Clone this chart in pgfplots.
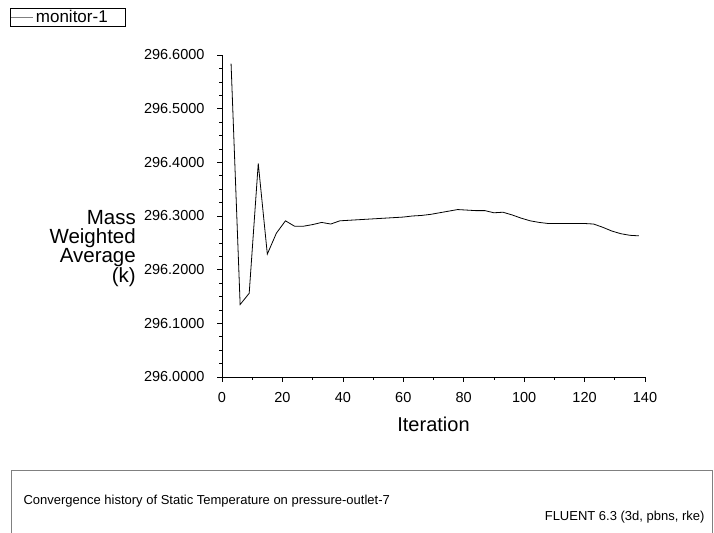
\documentclass[border=0pt]{standalone}
\usepackage{fontspec}
\setmainfont{Liberation Sans}
\usepackage{pgfplots}
\pgfplotsset{compat=1.18}

\begin{document}
\begin{tikzpicture}[x=1bp,y=1bp]
\useasboundingbox (0,0) rectangle (714,533);
\begin{axis}[
  at={(222bp,156bp)}, anchor=south west,
  width=423bp, height=322bp, scale only axis,
  xmin=0, xmax=140, ymin=296, ymax=296.6,
  axis x line*=bottom, axis y line*=left,
  axis line style={-, black, line width=0.6bp},
  tick align=outside, major tick length=5bp, minor tick length=3bp,
  tick style={black, line width=0.6bp},
  xtick={0,20,...,140}, minor x tick num=1,
  ytick={296,296.1,296.2,296.3,296.4,296.5,296.6}, minor y tick num=3,
  scaled y ticks=false,
  yticklabel style={/pgf/number format/fixed, /pgf/number format/fixed zerofill,
    /pgf/number format/precision=4, /pgf/number format/1000 sep={}, xshift=-9bp},
  xticklabel style={yshift=-7bp},
  /pgf/number format/assume math mode=true,
  ticklabel style={font=\fontsize{14.5bp}{14.5bp}\selectfont},
  xlabel={Iteration},
  xlabel style={at={(axis description cs:0.5,0)}, anchor=base, yshift=-55bp,
    font=\fontsize{20bp}{20bp}\selectfont},
  ylabel={Mass\\Weighted\\Average\\(k)},
  ylabel style={rotate=-90, align=right, anchor=north east, inner sep=0pt,
    at={(axis description cs:0,0.518)}, xshift=-86bp,
    font=\fontsize{20.5bp}{19bp}\selectfont},
  legend style={at={(axis description cs:-0.501,1.146)}, anchor=north west,
    draw=black, line width=0.5bp, inner sep=0.3bp,
    font=\fontsize{17bp}{17bp}\selectfont},
  legend image code/.code={\draw[gray, line width=1.3bp] (0bp,0bp) -- (22bp,0bp);},
]
\addplot[black, line width=0.8bp] coordinates {
  (3,296.584) (6,296.135) (9,296.156) (12,296.398) (15,296.229) (18,296.268)
  (21,296.291) (24,296.281) (27,296.281) (30,296.284) (33,296.288) (36,296.285)
  (39,296.291) (42,296.292) (45,296.293) (48,296.294) (51,296.295) (54,296.296)
  (57,296.297) (60,296.298) (63,296.300) (66,296.301) (69,296.303) (72,296.306)
  (75,296.309) (78,296.312) (81,296.311) (84,296.310) (87,296.310) (90,296.306)
  (93,296.307) (96,296.302) (99,296.296) (102,296.291) (105,296.288) (108,296.286)
  (111,296.286) (114,296.286) (117,296.286) (120,296.286) (123,296.285) (126,296.279)
  (129,296.272) (132,296.267) (135,296.264) (138,296.263)
};
\addlegendentry{\makebox[87bp][l]{monitor-1}}
\end{axis}
\draw[gray, line width=0.8bp] (11,-5) rectangle (712,62.5);
\node[anchor=west, font=\fontsize{13bp}{13bp}\selectfont] at (20,32)
  {Convergence history of Static Temperature on pressure-outlet-7};
\node[anchor=east, font=\fontsize{13bp}{13bp}\selectfont] at (708,16)
  {FLUENT 6.3 (3d, pbns, rke)};
\end{tikzpicture}
\end{document}
